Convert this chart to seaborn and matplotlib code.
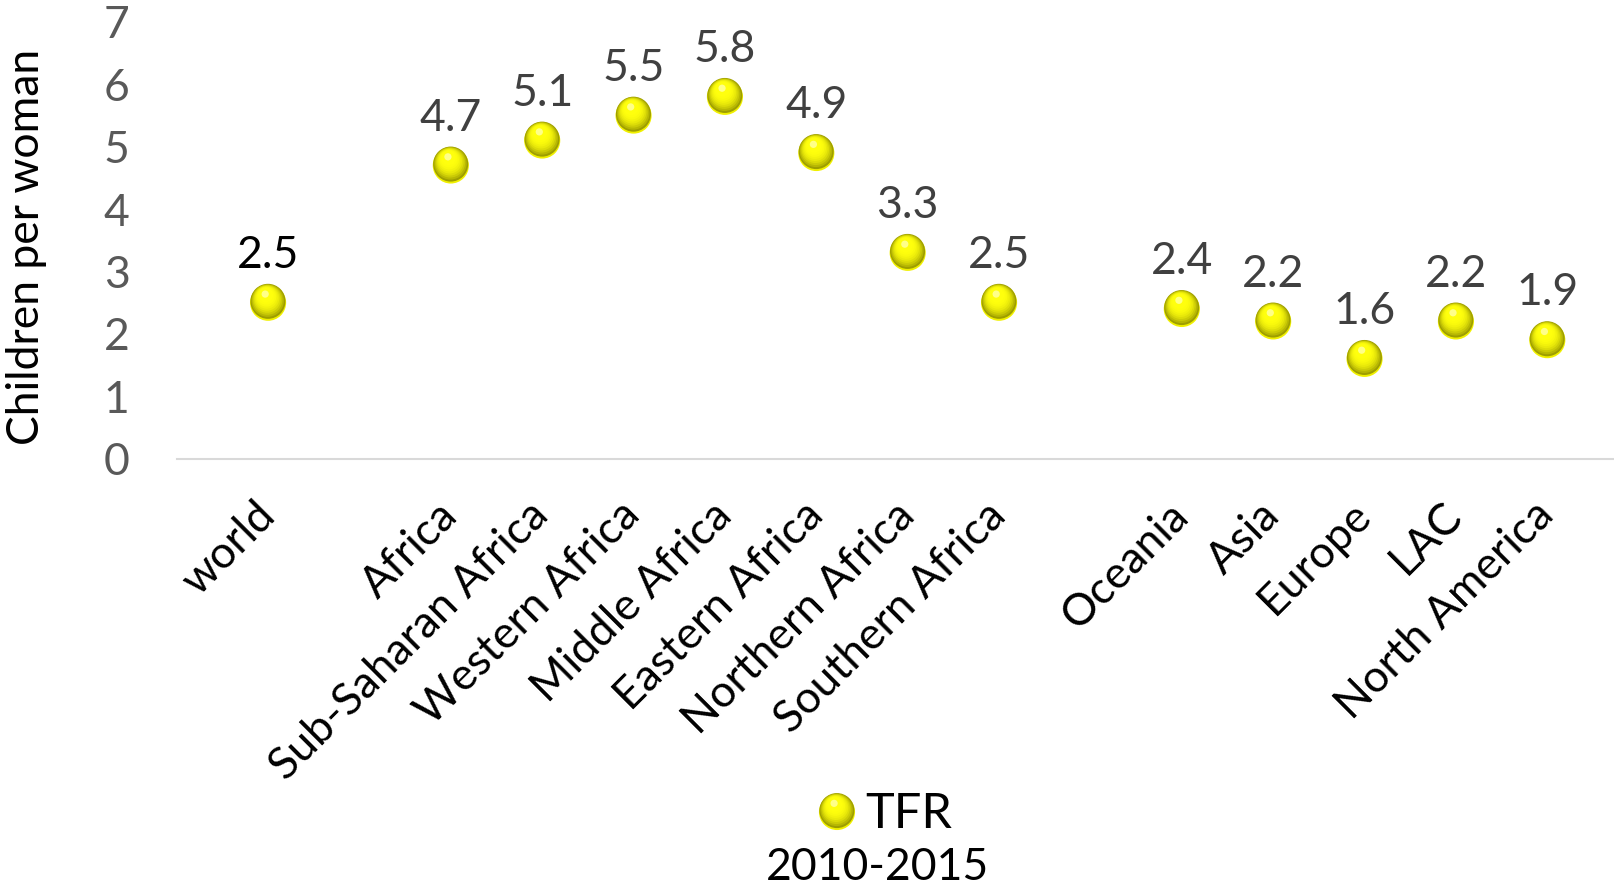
import numpy as np
import pandas as pd
import matplotlib
matplotlib.use("Agg")
import matplotlib.pyplot as plt
import seaborn as sns
from matplotlib.transforms import ScaledTranslation

categories = ["world", "", "Africa", "Sub-Saharan Africa", "Western Africa",
              "Middle Africa", "Eastern Africa", "Northern Africa", "Southern Africa",
              " ", "Oceania", "Asia", "Europe", "LAC", "North America"]
tfr = [2.5, None, 4.7, 5.1, 5.5, 5.8, 4.9, 3.3, 2.5, None, 2.4, 2.2, 1.6, 2.2, 1.9]
y_ticks = [0, 1, 2, 3, 4, 5, 6, 7]
series_name = "TFR"
period = "2010-2015"
y_title = "Children per woman"

sns.set_theme(style="white")
plt.rcParams["font.family"] = ["Lato", "DejaVu Sans"]

FS = 32

df = pd.DataFrame({"pos": np.arange(len(categories)), "cat": categories,
                   "tfr": pd.to_numeric(pd.Series(tfr), errors="coerce")})
pts = df.dropna()

fig = plt.figure(figsize=(16.14, 8.94), dpi=100)
ax = fig.add_axes([176.7 / 1614, 1 - 458.7 / 894, 1 - 176.7 / 1614, (458.7 - 22) / 894])

DIAM = 26.0  # points


def sphere(axis, data, x, y, diam=DIAM):
    dark = np.array([0.62, 0.62, 0.0])
    bright = np.array([1.0, 1.0, 0.05])
    sns.scatterplot(data=data, x=x, y=y, ax=axis, s=diam ** 2, color="#f0f000",
                    edgecolor="none", legend=False, zorder=3, clip_on=False)
    n = 10
    for i in range(n):
        f = 0.97 - i / n * 0.7
        t = i / (n - 1)
        w = 1 - (1 - t) ** 2.5
        col = dark * (1 - w) + bright * w
        d = diam * f
        off = (diam - d) / 2 * 0.6
        sns.scatterplot(data=data, x=x, y=y, ax=axis, s=d ** 2, color=col,
                        edgecolor="none", legend=False, zorder=4 + i, clip_on=False)
        coll = axis.collections[-1]
        coll.set_offset_transform(axis.transData + ScaledTranslation(
            -off * 0.35 / 72, off / 72 + 0.03 * diam / 72, fig.dpi_scale_trans))
    sns.scatterplot(data=data, x=x, y=y, ax=axis, s=(diam * 0.2) ** 2, color="#ffffa0",
                    edgecolor="none", legend=False, zorder=20, alpha=0.85, clip_on=False)
    coll = axis.collections[-1]
    coll.set_offset_transform(axis.transData + ScaledTranslation(
        -diam * 0.08 / 72, diam * 0.24 / 72, fig.dpi_scale_trans))


sphere(ax, pts, "pos", "tfr")

for _, r in pts.iterrows():
    col = "#000000" if r["cat"] == "world" else "#404040"
    ax.annotate(f"{r['tfr']:.1f}", (r["pos"], r["tfr"]), xytext=(0, 25),
                textcoords="offset points", ha="center", va="baseline",
                fontsize=FS, color=col, zorder=30)

ax.set_xlim(-1.0, 14.73)
ax.set_ylim(0, 7)
ax.set_yticks(y_ticks)
ax.set_yticklabels([str(v) for v in y_ticks], fontsize=FS, color="#595959")
ax.set_xticks(df["pos"])
ax.set_xticklabels(categories, rotation=45, ha="right", rotation_mode="anchor",
                   fontsize=FS, color="#000000")
ax.tick_params(axis="x", length=0, pad=36)
ax.tick_params(axis="y", length=0, pad=34)
for lab in ax.get_xticklabels():
    lab.set_va("center")
ax.set_xlabel("")
ax.set_ylabel(y_title, fontsize=FS, color="#000000")
ax.yaxis.set_label_coords((27 - 176.7) / (1614 - 176.7), (458.7 - 247) / 436.7)
ax.yaxis.label.set_va("center")
for s in ["top", "right", "left"]:
    ax.spines[s].set_visible(False)
ax.spines["bottom"].set_color("#d9d9d9")
ax.spines["bottom"].set_linewidth(1.5)
ax.grid(False)
ax.patch.set_alpha(0)

# legend
lax = fig.add_axes([807 / 1614, 1 - 842 / 894, 60 / 1614, 60 / 894])
lax.set_xlim(0, 1)
lax.set_ylim(0, 1)
lax.axis("off")
sphere(lax, pd.DataFrame({"x": [0.5], "y": [0.5]}), "x", "y")
fig.text(865 / 1614, 1 - 828 / 894, series_name, fontsize=35, color="#000000",
         ha="left", va="baseline")
fig.text(877 / 1614, 1 - 880 / 894, period, fontsize=FS, color="#000000",
         ha="center", va="baseline")

fig.savefig("out.png", dpi=100)
